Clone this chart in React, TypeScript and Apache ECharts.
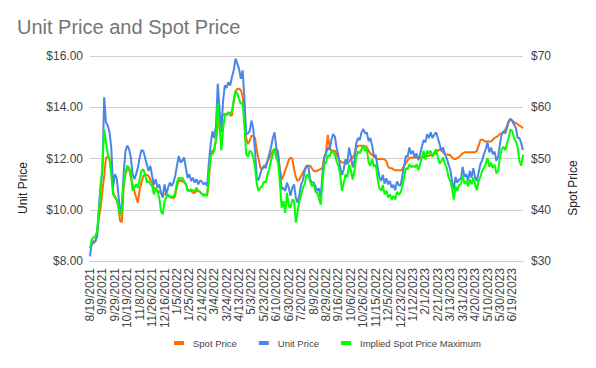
import React, { useEffect, useRef } from "react";
import * as echarts from "echarts";

const tickLabels = [
  "8/19/2021", "9/9/2021", "9/29/2021", "10/19/2021", "11/8/2021", "11/26/2021", "12/16/2021",
  "1/5/2022", "1/25/2022", "2/14/2022", "3/4/2022", "3/24/2022", "4/13/2022", "5/3/2022",
  "5/23/2022", "6/10/2022", "6/30/2022", "7/20/2022", "8/9/2022", "8/29/2022", "9/16/2022",
  "10/6/2022", "10/26/2022", "11/15/2022", "12/5/2022", "12/23/2022", "1/12/2023", "2/1/2023",
  "2/21/2023", "3/13/2023", "3/31/2023", "4/20/2023", "5/10/2023", "5/30/2023", "6/19/2023",
];

const unitPrice = [
  8.18, 8.71, 8.77, 8.75, 8.97, 10.08, 10.99, 11.52, 14.39, 13.41,
  13.28, 13.02, 12.43, 10.86, 11.39, 11.25, 10.6, 9.88, 10.21, 11.45,
  12.3, 12.5, 12.37, 12.04, 11.39, 11.19, 11.39, 11.65, 12.04, 12.33,
  12.3, 12.04, 11.78, 11.52, 11.71, 11.32, 10.99, 11.19, 10.86, 10.99,
  10.67, 10.47, 10.99, 10.6, 10.86, 11.06, 10.93, 11.06, 11.32, 11.71,
  12.1, 11.84, 11.91, 12.04, 11.65, 11.25, 11.39, 11.12, 11.25, 11.06,
  11.19, 10.99,
  11.15, 11.1, 10.99, 11.06, 10.93, 11.84, 12.56, 13.06, 12.8, 13.28,
  14.92, 13.93, 13.02, 14.26, 14.85, 14.76, 14.98, 14.85, 15.18, 15.44,
  15.9, 15.7, 15.5, 15.11, 15.44, 14.39, 12.95, 12.98, 13.08, 13.48,
  13.15, 12.3, 11.25, 11.15, 11.41, 11.62, 11.71, 11.62, 11.91, 12.17,
  12.43, 12.8, 13.02, 12.41, 12.24, 11.52, 10.8, 10.86, 10.73, 11.06,
  10.86, 10.54, 10.86, 10.99, 10.47, 10.27, 10.6, 10.99, 11.15, 11.52,
  11.71, 11.71,
  11.19, 11.06, 11.06, 10.93, 10.73, 10.84, 10.47, 11.39, 12.01, 12.2,
  12.43, 12.33, 12.72, 12.95, 12.85, 12.41, 12.1, 11.65, 11.36, 11.58,
  11.97, 11.78, 12.43, 12.1, 11.65, 11.91, 12.59, 12.8, 12.72, 13.02,
  13.15, 12.98, 13.02, 12.67, 12.8, 12.5, 12.07, 12.14, 11.71, 11.28,
  11.12, 11.36, 11.02, 11.23, 10.99, 11.12, 10.86, 10.97, 10.76, 11.1,
  10.97, 10.93, 11.32, 11.71, 12.1, 12.07, 12.43, 12.17, 12.3, 12.04,
  12.2, 11.93,
  12.17, 12.46, 12.72, 12.63, 12.95, 12.8, 13.02, 12.8, 12.93, 13.02,
  12.8, 12.56, 12.3, 12.43, 12.17, 12.01, 11.78, 11.58, 11.12, 10.8,
  11.28, 11.06, 11.19, 11.19, 11.67, 11.28, 11.39, 11.12, 11.52, 11.25,
  11.62, 11.28, 11.12, 11.45, 11.78, 11.93, 12.17, 12.37, 12.63, 12.24,
  12.43, 12.17, 12.27, 11.91, 12.07, 12.56, 12.95, 13.06, 12.98, 13.19,
  13.45, 13.54, 13.45, 13.32, 13.19, 12.8, 12.8, 12.59, 12.33,
];

const spotPrice = [
  32.5, 33.2, 33.5, 33.9, 35.5, 38.4, 40.4, 43.7, 46.6, 50.1,
  50.3, 49.9, 47.6, 43.7, 42.4, 42.0, 40.4, 37.8, 37.6, 45.0,
  46.9, 47.9, 47.9, 46.3, 45.0, 43.7, 42.4, 41.4, 44.0, 45.3,
  46.6, 46.9, 46.8, 46.6, 45.9, 45.3, 44.3, 44.0, 43.7, 43.5,
  43.3, 43.1, 43.0, 42.9, 42.7, 42.5, 42.4, 42.2, 42.7, 44.6,
  45.6, 45.6, 45.6, 45.3, 45.0, 44.0, 43.7, 43.7, 43.3, 43.3,
  43.7, 43.7,
  43.5, 43.1, 43.0, 42.9, 42.9, 45.9, 50.8, 51.5, 51.8, 53.5,
  56.4, 58.0, 58.0, 58.6, 58.7, 58.7, 59.0, 58.4, 58.4, 61.3,
  63.1, 63.6, 63.6, 63.4, 62.1, 58.7, 54.0, 52.8, 53.5, 54.4,
  54.4, 54.0, 51.5, 49.9, 48.2, 47.9, 48.4, 48.8, 49.4, 50.1,
  50.8, 51.5, 51.8, 51.5, 50.2, 47.9, 45.9, 46.6, 47.7, 48.6,
  49.7, 50.2, 49.9, 47.9, 46.4, 45.6, 45.9, 46.6, 47.3, 47.9,
  48.6, 48.6,
  48.6, 48.1, 47.6, 47.5, 47.6, 47.8, 47.9, 48.2, 50.3, 51.2,
  54.6, 52.3, 51.5, 51.5, 51.5, 50.8, 49.9, 49.5, 49.2, 49.2,
  49.2, 49.0, 49.4, 49.9, 50.2, 50.8, 52.0, 52.5, 52.5, 52.5,
  52.5, 52.4, 52.2, 51.5, 51.0, 50.7, 50.3, 50.1, 49.9, 49.9,
  49.9, 49.9, 49.8, 49.5, 48.4, 48.1, 48.1, 47.9, 47.7, 47.7,
  47.7, 47.7, 47.9, 48.6, 49.0, 49.7, 50.1, 50.2, 50.2, 50.2,
  50.2, 50.1,
  50.1, 50.2, 50.3, 50.3, 50.5, 50.5, 50.7, 50.7, 50.8, 51.1,
  51.5, 51.8, 51.5, 51.2, 50.8, 50.8, 50.7, 50.7, 50.2, 49.9,
  49.9, 50.1, 50.3, 50.7, 51.0, 51.2, 51.2, 51.2, 51.2, 51.2,
  51.2, 51.2, 51.5, 52.5, 53.6, 53.7, 53.5, 53.3, 53.3, 53.3,
  53.3, 53.7, 54.0, 54.2, 54.4, 54.8, 54.9, 55.1, 55.6, 56.4,
  57.4, 57.7, 57.4, 57.1, 56.9, 56.7, 56.4, 56.2, 55.9,
];

const impliedSpotMax = [
  32.5, 34.2, 34.6, 34.8, 35.8, 39.7, 43.7, 48.9, 55.7, 53.1,
  50.9, 49.9, 46.9, 43.0, 42.7, 42.0, 40.7, 38.8, 40.1, 45.3,
  47.3, 48.6, 48.2, 47.3, 43.7, 44.3, 45.0, 44.3, 45.9, 47.6,
  47.9, 46.9, 45.3, 45.6, 45.0, 44.6, 43.0, 44.3, 43.7, 42.4,
  39.7, 39.1, 41.7, 42.4, 43.0, 42.4, 42.7, 42.4, 43.3, 45.3,
  46.3, 45.9, 46.3, 45.6, 45.0, 43.7, 43.7, 44.0, 43.7, 43.7,
  44.3, 43.7,
  43.5, 43.1, 42.7, 43.0, 42.7, 46.9, 50.5, 50.9, 51.5, 54.0,
  60.7, 56.4, 51.6, 55.7, 58.6, 58.4, 59.0, 58.7, 59.3, 61.3,
  63.1, 62.7, 61.6, 60.7, 60.8, 56.4, 50.9, 50.3, 51.5, 51.2,
  50.2, 48.3, 45.0, 43.7, 44.3, 44.6, 45.5, 45.3, 46.9, 47.9,
  49.6, 50.9, 52.0, 50.1, 49.2, 45.3, 40.4, 41.7, 39.4, 43.3,
  40.7, 40.4, 42.0, 41.7, 37.5, 39.7, 41.7, 43.0, 44.3, 45.0,
  46.8, 46.8,
  45.6, 44.6, 45.0, 43.5, 43.3, 42.2, 41.0, 45.3, 48.8, 49.2,
  50.7, 50.3, 51.4, 51.2, 50.7, 49.4, 48.6, 46.8, 43.7, 45.3,
  46.9, 46.3, 48.8, 47.7, 45.9, 47.6, 50.2, 51.4, 51.0, 51.8,
  52.5, 51.5, 52.0, 49.2, 48.6, 49.9, 48.4, 48.8, 46.3, 44.3,
  43.7, 44.8, 43.0, 43.7, 42.4, 43.0, 42.0, 42.7, 42.0, 43.5,
  43.0, 43.3, 44.6, 46.3, 48.1, 47.9, 48.9, 48.3, 48.6, 48.3,
  48.9, 47.7,
  48.9, 50.2, 51.5, 49.8, 51.5, 51.0, 51.5, 50.3, 51.2, 51.8,
  50.3, 49.0, 49.5, 50.2, 49.0, 48.2, 46.4, 45.6, 44.2, 42.0,
  44.6, 43.7, 44.8, 45.0, 46.8, 45.1, 45.6, 44.6, 45.9, 45.0,
  46.3, 45.0, 43.8, 45.6, 46.4, 47.6, 48.2, 48.9, 50.1, 48.4,
  49.2, 48.2, 48.8, 47.1, 47.6, 50.2, 51.8, 52.3, 51.6, 52.9,
  54.2, 55.7, 55.3, 54.0, 53.3, 52.2, 49.5, 48.6, 50.7,
];

const LABEL_EVERY = 7;

function buildCategories(count: number): string[] {
  // trading-day calendar sampled every second session; labelled sessions use tickLabels
  const days: string[] = [];
  const d = new Date(2021, 7, 19);
  while (days.length < count * 2) {
    const wd = d.getDay();
    const s = `${d.getMonth() + 1}/${d.getDate()}/${d.getFullYear()}`;
    if (wd !== 0 && wd !== 6 && s !== "9/6/2021") days.push(s);
    d.setDate(d.getDate() + 1);
  }
  const out: string[] = [];
  for (let i = 0; i < count; i++) {
    if (i % LABEL_EVERY === 0 && i / LABEL_EVERY < tickLabels.length) out.push(tickLabels[i / LABEL_EVERY]);
    else out.push(days[i * 2]);
  }
  return out;
}

const FONT = "'Liberation Sans', Arial, sans-serif";

export default function App() {
  const ref = useRef<HTMLDivElement>(null);
  useEffect(() => {
    document.body.style.margin = "0";
    const chart = echarts.init(ref.current!, undefined, { renderer: "svg" });
    const categories = buildCategories(unitPrice.length);
    chart.setOption({
      animation: false,
      backgroundColor: "#ffffff",
      textStyle: { fontFamily: FONT },
      title: {
        text: "Unit Price and Spot Price",
        left: 17,
        top: 17,
        padding: 0,
        textStyle: { fontSize: 20, fontWeight: "normal", color: "#757575", fontFamily: FONT },
      },
      legend: {
        left: 169,
        top: 333,
        icon: "rect",
        itemWidth: 10,
        itemHeight: 4,
        itemGap: 22,
        textStyle: { fontSize: 9.5, color: "#444", fontFamily: FONT, padding: [0, 0, 0, 4] },
        data: ["Spot Price", "Unit Price", "Implied Spot Price Maximum"],
      },
      grid: { left: 90, right: 73, top: 56, bottom: 107, containLabel: false },
      xAxis: {
        type: "category",
        data: categories,
        boundaryGap: false,
        axisLine: { lineStyle: { color: "#cccccc" } },
        axisTick: { show: false },
        axisLabel: {
          interval: LABEL_EVERY - 1,
          rotate: 90,
          fontSize: 12,
          color: "#444",
          margin: 7,
          fontFamily: FONT,
        },
        splitLine: { show: false },
      },
      yAxis: [
        {
          type: "value",
          min: 8,
          max: 16,
          interval: 2,
          axisLine: { show: false },
          axisTick: { show: false },
          axisLabel: {
            formatter: (v: number) => "$" + v.toFixed(2),
            fontSize: 12,
            color: "#444",
            margin: 7,
            fontFamily: FONT,
          },
          splitLine: { lineStyle: { color: "#cfcfcf" } },
        },
        {
          type: "value",
          min: 30,
          max: 70,
          interval: 10,
          position: "right",
          axisLine: { show: false },
          axisTick: { show: false },
          axisLabel: {
            formatter: (v: number) => "$" + v,
            fontSize: 12,
            color: "#444",
            margin: 8,
            fontFamily: FONT,
          },
          splitLine: { show: false },
        },
      ],
      series: [
        {
          name: "Spot Price",
          type: "line",
          yAxisIndex: 1,
          data: spotPrice,
          showSymbol: false,
          lineStyle: { width: 2, color: "#ff6d01" },
          itemStyle: { color: "#ff6d01" },
        },
        {
          name: "Unit Price",
          type: "line",
          yAxisIndex: 0,
          data: unitPrice,
          showSymbol: false,
          lineStyle: { width: 2, color: "#4a86e8" },
          itemStyle: { color: "#4a86e8" },
        },
        {
          name: "Implied Spot Price Maximum",
          type: "line",
          yAxisIndex: 1,
          data: impliedSpotMax,
          showSymbol: false,
          lineStyle: { width: 2, color: "#00ff00" },
          itemStyle: { color: "#00ff00" },
        },
      ],
      graphic: [
        {
          type: "text",
          x: 23,
          y: 188,
          rotation: Math.PI / 2,
          style: { text: "Unit Price", fontSize: 12, fill: "#222", align: "center", verticalAlign: "middle", fontFamily: FONT },
        },
        {
          type: "text",
          x: 573,
          y: 188,
          rotation: Math.PI / 2,
          style: { text: "Spot Price", fontSize: 12, fill: "#222", align: "center", verticalAlign: "middle", fontFamily: FONT },
        },
      ],
    });
    return () => chart.dispose();
  }, []);
  return <div ref={ref} style={{ width: 596, height: 368 }} />;
}
